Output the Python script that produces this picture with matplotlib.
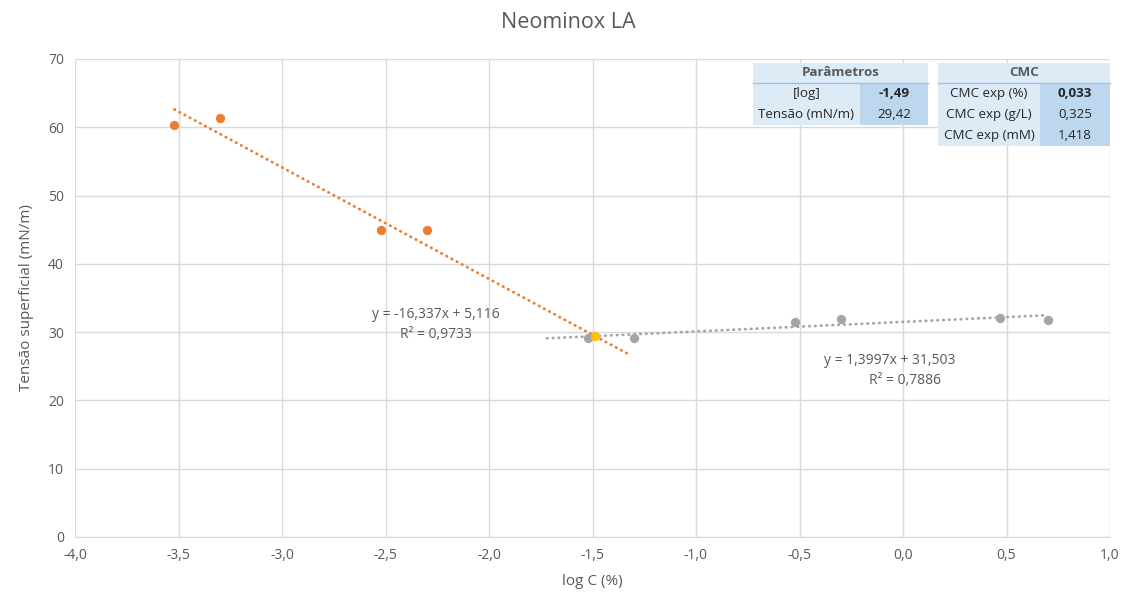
import numpy as np
import matplotlib.pyplot as plt
from matplotlib.patches import Rectangle
from matplotlib.ticker import FuncFormatter

plt.rcParams['font.family'] = ['Open Sans', 'DejaVu Sans']

# data
x_pre = [-3.52, -3.30, -2.52, -2.30]
y_pre = [60.3, 61.4, 45.0, 45.0]
x_post = [-1.52, -1.30, -0.52, -0.30, 0.47, 0.70]
y_post = [29.1, 29.1, 31.5, 31.9, 32.1, 31.8]
x_cmc = [-1.49]
y_cmc = [29.42]

# trendlines (as given on chart)
slope_pre, icpt_pre = -16.337, 5.116
slope_post, icpt_post = 1.3997, 31.503
tl_pre_range = [-3.52, -1.32]
tl_post_range = [-1.72, 0.70]

W, H = 1126, 595
fig = plt.figure(figsize=(W / 100, H / 100), dpi=100)
ax = fig.add_axes([75 / W, 1 - 537 / H, (1110 - 75) / W, (537 - 59) / H])

grid_c = '#D9D9D9'
text_c = '#595959'

# trendlines
xs = np.array(tl_pre_range)
ax.plot(xs, slope_pre * xs + icpt_pre, color='#ED7D31', lw=2.0,
        linestyle=(0, (0.2, 1.9)), dash_capstyle='round', zorder=2)
xs = np.array(tl_post_range)
ax.plot(xs, slope_post * xs + icpt_post, color='#A5A5A5', lw=2.0,
        linestyle=(0, (0.2, 1.9)), dash_capstyle='round', zorder=2)

ax.scatter(x_pre, y_pre, s=45, color='#ED7D31', zorder=3, linewidths=0)
ax.scatter(x_post, y_post, s=45, color='#A5A5A5', zorder=3, linewidths=0)
ax.scatter(x_cmc, y_cmc, s=45, color='#FFC000', zorder=4, linewidths=0)

ax.set_xlim(-4, 1)
ax.set_ylim(0, 70)
ax.set_xticks(np.arange(-4, 1.01, 0.5))
ax.set_yticks(np.arange(0, 71, 10))
ax.xaxis.set_major_formatter(FuncFormatter(lambda v, p: f'{v:.1f}'.replace('.', ',')))
ax.grid(True, color=grid_c, lw=1)
ax.set_axisbelow(True)
for s in ['top', 'right', 'left']:
    ax.spines[s].set_visible(False)
ax.spines['bottom'].set_color(grid_c)
ax.tick_params(length=0, colors=text_c, labelsize=10, pad=8)

ax.set_xlabel('log C (%)', color=text_c, fontsize=11, labelpad=8)
ax.set_ylabel('Tensão superficial (mN/m)', color=text_c, fontsize=11, labelpad=10)
fig.text(568 / W, 1 - 22 / H, 'Neominox LA', ha='center', va='center',
         fontsize=15.5, color=text_c)

# trendline labels
def ptext(px, py, s, **kw):
    fig.text(px / W, 1 - py / H, s, ha='center', va='center', color=text_c,
             fontsize=10, **kw)

ptext(436, 315, 'y = -16,337x + 5,116')
ptext(436, 335, 'R² = 0,9733')
ptext(890, 361, 'y = 1,3997x + 31,503')
ptext(905, 381, 'R² = 0,7886')

# parameter tables
light = '#DDEBF7'
dark = '#BDD7EE'

def cell(x0, y0, x1, y1, color):
    fig.add_artist(Rectangle((x0 / W, 1 - y1 / H), (x1 - x0) / W, (y1 - y0) / H,
                             transform=fig.transFigure, facecolor=color,
                             edgecolor='none', zorder=5))

def ctext(px, py, s, bold=False, color='#262626'):
    fig.text(px / W, 1 - py / H, s, ha='center', va='center', color=color,
             fontsize=9.6, fontweight='bold' if bold else 'normal', zorder=6)

t1_rows = ['[log]', 'Tensão (mN/m)']
t1_vals = ['-1,49', '29,42']
t2_rows = ['CMC exp (%)', 'CMC exp (g/L)', 'CMC exp (mM)']
t2_vals = ['0,033', '0,325', '1,418']

def table(x0, xm, x1, title, rows, vals):
    cell(x0, 63, x1, 83, light)
    fig.add_artist(plt.Line2D([x0 / W, x1 / W], [1 - 83 / H, 1 - 83 / H],
                              transform=fig.transFigure, color='#9BC2E6',
                              lw=1, zorder=6))
    ctext((x0 + x1) / 2, 73, title, bold=True, color=text_c)
    for i, (r, v) in enumerate(zip(rows, vals)):
        ya, yb = 83 + i * 21, 104 + i * 21
        cell(x0, ya, xm, yb, light)
        cell(xm, ya, x1, yb, dark)
        ctext((x0 + xm) / 2, (ya + yb) / 2, r)
        ctext((xm + x1) / 2, (ya + yb) / 2, v, bold=(i == 0))

table(753, 860, 928, 'Parâmetros', t1_rows, t1_vals)
table(938, 1040, 1110, 'CMC', t2_rows, t2_vals)

fig.savefig('out.png', dpi=100)
